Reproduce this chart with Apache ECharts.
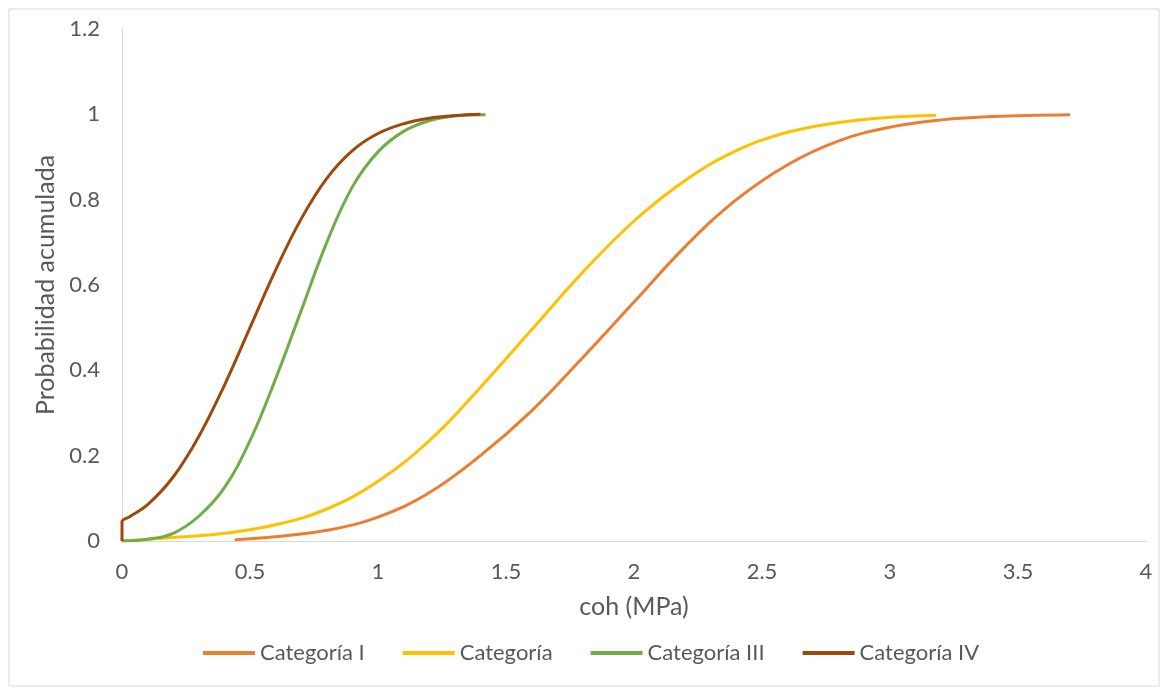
<!DOCTYPE html>
<html>
<head>
<meta charset="utf-8">
<script src="https://cdn.jsdelivr.net/npm/echarts@6/dist/echarts.min.js"></script>
<style>
html,body{margin:0;padding:0;background:#fff;}
#chart{width:1162px;height:689px;}
</style>
</head>
<body>
<div id="chart"></div>
<script>
const seriesNames = ['Categoría I', 'Categoría', 'Categoría III', 'Categoría IV'];
const seriesColors = ['#ED7D31', '#FFC000', '#70AD47', '#9E480E'];

const catI_x = [0.44, 0.6, 0.8, 1.0, 1.2, 1.4, 1.6, 1.8, 2.0, 2.2, 2.4, 2.6, 2.8, 3.0, 3.2, 3.4, 3.703];
const catI_y = [0.003, 0.01, 0.025, 0.056, 0.113, 0.2, 0.305, 0.43, 0.56, 0.69, 0.8, 0.882, 0.938, 0.97, 0.987, 0.995, 0.999];

const catII_x = [0, 0.2, 0.4, 0.6, 0.8, 1.0, 1.2, 1.4, 1.6, 1.8, 2.0, 2.2, 2.4, 2.6, 2.8, 3.0, 3.18];
const catII_y = [0, 0.008, 0.018, 0.038, 0.075, 0.14, 0.235, 0.36, 0.495, 0.63, 0.75, 0.845, 0.915, 0.958, 0.981, 0.993, 0.998];

const catIII_x = [0, 0.1, 0.2, 0.3, 0.4, 0.5, 0.6, 0.7, 0.8, 0.9, 1.0, 1.1, 1.2, 1.3, 1.42];
const catIII_y = [0, 0.004, 0.018, 0.058, 0.125, 0.235, 0.38, 0.54, 0.7, 0.83, 0.912, 0.96, 0.985, 0.996, 0.999];

const catIV_x = [0, 0, 0.03, 0.1, 0.2, 0.3, 0.4, 0.5, 0.6, 0.7, 0.8, 0.9, 1.0, 1.1, 1.2, 1.3, 1.4];
const catIV_y = [0, 0.045, 0.057, 0.085, 0.15, 0.245, 0.365, 0.5, 0.635, 0.755, 0.85, 0.915, 0.955, 0.978, 0.991, 0.997, 1.0];

const xTicks = [0, 0.5, 1, 1.5, 2, 2.5, 3, 3.5, 4];
const yTicks = [0, 0.2, 0.4, 0.6, 0.8, 1, 1.2];

const xs = [catI_x, catII_x, catIII_x, catIV_x];
const ys = [catI_y, catII_y, catIII_y, catIV_y];

const FONT = 'Lato';
const TXT = '#595959';

const chart = echarts.init(document.getElementById('chart'));
chart.setOption({
  animation: false,
  backgroundColor: '#fff',
  graphic: [{
    type: 'rect', left: 6.5, top: 6.5, z: -1,
    shape: { width: 1150, height: 677 },
    style: { fill: 'none', stroke: '#D9D9D9', lineWidth: 1 }
  }],
  grid: { left: 122, right: 16, top: 29, bottom: 148 },
  legend: {
    left: 198, top: 637,
    icon: 'rect',
    itemWidth: 52, itemHeight: 4, itemGap: 38,
    textStyle: { fontFamily: FONT, fontSize: 22, color: TXT },
    data: seriesNames
  },
  xAxis: {
    type: 'value', min: 0, max: 4, interval: 0.5,
    name: 'coh (MPa)', nameLocation: 'middle', nameGap: 53,
    nameTextStyle: { fontFamily: FONT, fontSize: 25, color: TXT },
    axisLine: { show: true, lineStyle: { color: '#D9D9D9', width: 1 } },
    axisTick: { show: false },
    splitLine: { show: false },
    axisLabel: { fontFamily: FONT, fontSize: 22, color: TXT, margin: 20,
      formatter: v => String(v) }
  },
  yAxis: {
    type: 'value', min: 0, max: 1.2, interval: 0.2,
    name: 'Probabilidad acumulada', nameLocation: 'middle', nameGap: 64,
    nameTextStyle: { fontFamily: FONT, fontSize: 25, color: TXT },
    axisLine: { show: true, lineStyle: { color: '#D9D9D9', width: 1 } },
    axisTick: { show: false },
    splitLine: { show: false },
    axisLabel: { fontFamily: FONT, fontSize: 22, color: TXT, margin: 22,
      formatter: v => String(Math.round(v * 10) / 10) }
  },
  series: seriesNames.map((n, i) => ({
    name: n, type: 'line', symbol: 'none', showSymbol: false,
    smooth: 0.4,
    lineStyle: { color: seriesColors[i], width: 3 },
    itemStyle: { color: seriesColors[i] },
    data: xs[i].map((x, j) => [x, ys[i][j]])
  }))
});
</script>
</body>
</html>
